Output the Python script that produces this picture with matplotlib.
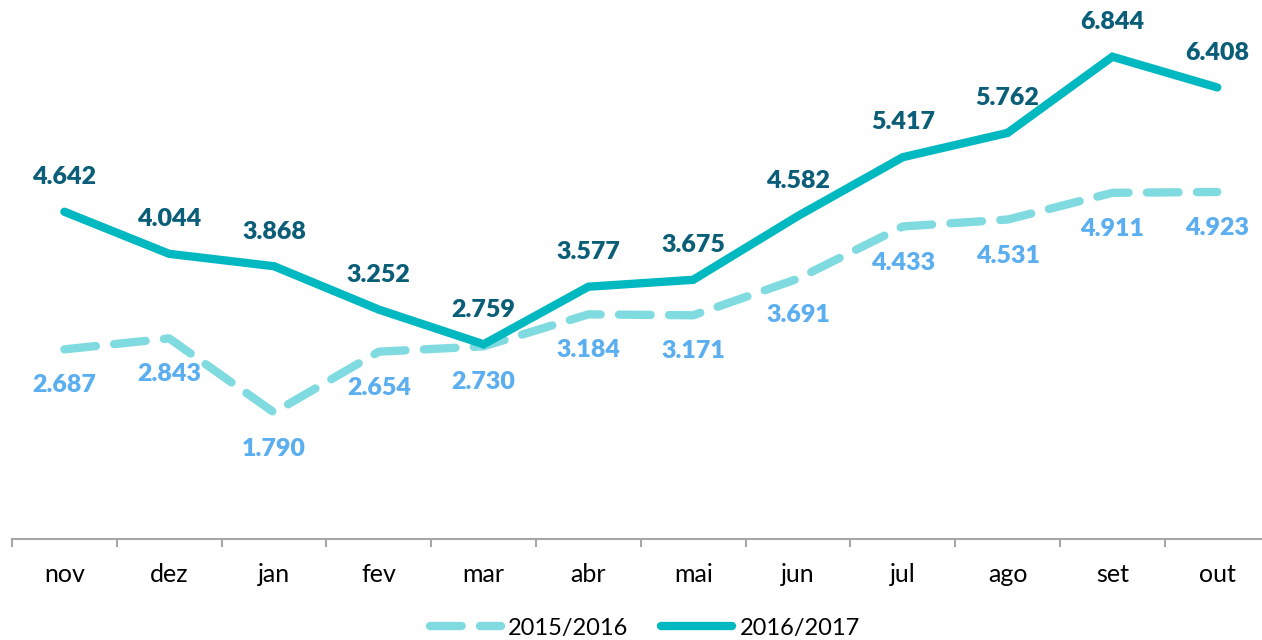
import matplotlib
matplotlib.use('Agg')
import matplotlib.pyplot as plt
from matplotlib.ticker import FixedLocator

plt.rcParams['font.family'] = ['Lato', 'DejaVu Sans']

# dados (valores em milhares, rótulos no formato português)
meses = ['nov', 'dez', 'jan', 'fev', 'mar', 'abr', 'mai', 'jun', 'jul', 'ago', 'set', 'out']
serie_1516 = [2687, 2843, 1790, 2654, 2730, 3184, 3171, 3691, 4433, 4531, 4911, 4923]
serie_1617 = [4642, 4044, 3868, 3252, 2759, 3577, 3675, 4582, 5417, 5762, 6844, 6408]
nome_1516 = '2015/2016'
nome_1617 = '2016/2017'

cor_claro = '#80DBE1'
cor_escuro = '#00B8C0'
cor_rot_claro = '#5BAEEF'
cor_rot_escuro = '#0B5E78'

fig = plt.figure(figsize=(12.62, 6.40), dpi=100)
ax = fig.add_axes([12 / 1262, 101.5 / 640, 1257.6 / 1262, 538.5 / 640])

x = list(range(len(meses)))
ax.plot(x, serie_1516, color=cor_claro, linewidth=6, linestyle=(0, (3.8, 2.2)),
        dash_capstyle='round', solid_capstyle='round', label=nome_1516)
ax.plot(x, serie_1617, color=cor_escuro, linewidth=6, solid_capstyle='round',
        solid_joinstyle='miter', label=nome_1617)

for i in x:
    ax.annotate(f'{serie_1617[i] / 1000:.3f}', (i, serie_1617[i]), xytext=(0, 25),
                textcoords='offset points', ha='center', va='center',
                fontsize=18, fontweight='heavy', color=cor_rot_escuro)
    ax.annotate(f'{serie_1516[i] / 1000:.3f}', (i, serie_1516[i]), xytext=(0, -26),
                textcoords='offset points', ha='center', va='center',
                fontsize=18, fontweight='heavy', color=cor_rot_claro)

ax.set_xlim(-0.5, len(meses) - 0.5)
ax.set_ylim(0, 7650)
ax.set_xticks(x)
ax.set_xticklabels(meses, fontsize=18)
ax.tick_params(axis='x', which='major', length=0, pad=18)
ax.xaxis.set_minor_locator(FixedLocator([i - 0.5 for i in range(len(meses) + 1)]))
ax.tick_params(axis='x', which='minor', length=6, width=1.5, color='#A6A6A6')
ax.set_yticks([])
for s in ['top', 'right', 'left']:
    ax.spines[s].set_visible(False)
ax.spines['bottom'].set_color('#A6A6A6')
ax.spines['bottom'].set_linewidth(1.5)
ax.patch.set_alpha(0)

fig.legend(loc='center', bbox_to_anchor=(0.511, 12 / 640), ncol=2, frameon=False,
           fontsize=17, handlelength=3.0, handletextpad=0.3, columnspacing=1.4)

fig.savefig('out.png', dpi=100)
